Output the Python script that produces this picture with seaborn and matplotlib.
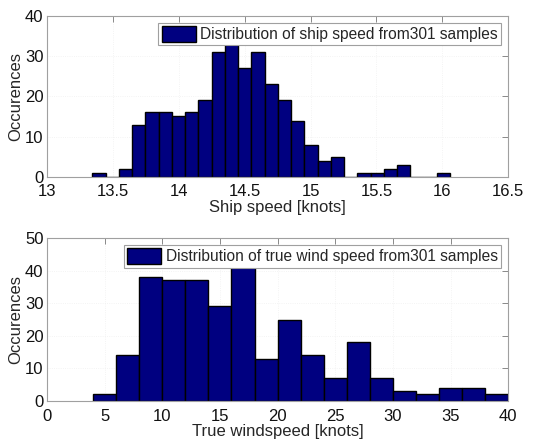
import seaborn as sns
import matplotlib.pyplot as plt
import numpy as np

# Ship speed histogram (bin centres, knots) and counts
ship_centres = [13.395, 13.496, 13.596, 13.697, 13.797, 13.898, 13.998, 14.099, 14.199,
                14.300, 14.400, 14.501, 14.601, 14.702, 14.802, 14.903, 15.003, 15.104,
                15.204, 15.305, 15.405, 15.506, 15.606, 15.707, 15.807, 15.908, 16.008]
ship_counts = [1, 0, 2, 13, 16, 16, 15, 16, 19, 31, 33, 27, 31, 23, 19, 14, 8, 4,
               5, 0, 1, 1, 2, 3, 0, 0, 1]
ship_binwidth = 0.1005

# True wind speed histogram
wind_centres = [5, 7, 9, 11, 13, 15, 17, 19, 21, 23, 25, 27, 29, 31, 33, 35, 37, 39]
wind_counts = [2, 14, 38, 37, 37, 29, 45, 13, 25, 14, 7, 18, 7, 3, 2, 4, 4, 2]
wind_binwidth = 2

ship_xticks = [13, 13.5, 14, 14.5, 15, 15.5, 16, 16.5]
ship_yticks = [0, 10, 20, 30, 40]
wind_xticks = [0, 5, 10, 15, 20, 25, 30, 35, 40]
wind_yticks = [0, 10, 20, 30, 40, 50]

sns.set_style("white")
plt.rcParams['font.family'] = ['Liberation Sans', 'DejaVu Sans']
plt.rcParams['font.size'] = 12

fig = plt.figure(figsize=(5.53, 4.41), dpi=100)
ax1 = fig.add_axes([0.085, 0.599, 0.834, 0.365])
ax2 = fig.add_axes([0.085, 0.091, 0.834, 0.369])

navy = "#000080"


def style_axes(ax, xticks, yticks, xlim, ylim, xlabel):
    ax.set_xlim(*xlim)
    ax.set_ylim(*ylim)
    ax.set_xticks(xticks)
    ax.set_xticklabels([f"{t:g}" for t in xticks])
    ax.set_yticks(yticks)
    ax.tick_params(direction="in", top=True, right=True, length=4, width=0.6,
                   color="#777777", labelsize=12, labelcolor="#111111")
    ax.tick_params(axis="x", pad=5.5)
    ax.tick_params(axis="y", pad=2.5)
    for sp in ax.spines.values():
        sp.set_visible(True)
        sp.set_color("#a0a0a0")
        sp.set_linewidth(0.8)
    ax.grid(True, linestyle=":", color="#f0f0f0", linewidth=0.6)
    ax.set_axisbelow(True)
    ax.set_xlabel(xlabel, fontsize=12, labelpad=0.5)
    ax.set_ylabel("Occurences", fontsize=12, labelpad=1)


def draw_hist(ax, centres, counts, binwidth, label):
    lo = centres[0] - binwidth / 2
    hi = centres[-1] + binwidth / 2
    sns.histplot(x=centres, weights=counts, binwidth=binwidth, binrange=(lo, hi),
                 color=navy, edgecolor="black", linewidth=1.0, alpha=1,
                 ax=ax, label=label)
    leg = ax.legend(loc="upper right", fancybox=False, framealpha=1,
                    edgecolor="#a0a0a0", fontsize=11.2, handlelength=2.2,
                    handleheight=1.2, borderpad=0.2, handletextpad=0.3,
                    borderaxespad=0.45)
    leg.get_frame().set_linewidth(0.8)


draw_hist(ax1, ship_centres, ship_counts, ship_binwidth,
          "Distribution of ship speed from301 samples")
style_axes(ax1, ship_xticks, ship_yticks, (13, 16.5), (0, 40), "Ship speed [knots]")

draw_hist(ax2, wind_centres, wind_counts, wind_binwidth,
          "Distribution of true wind speed from301 samples")
style_axes(ax2, wind_xticks, wind_yticks, (0, 40), (0, 50), "True windspeed [knots]")

fig.savefig("out.png", dpi=100)
